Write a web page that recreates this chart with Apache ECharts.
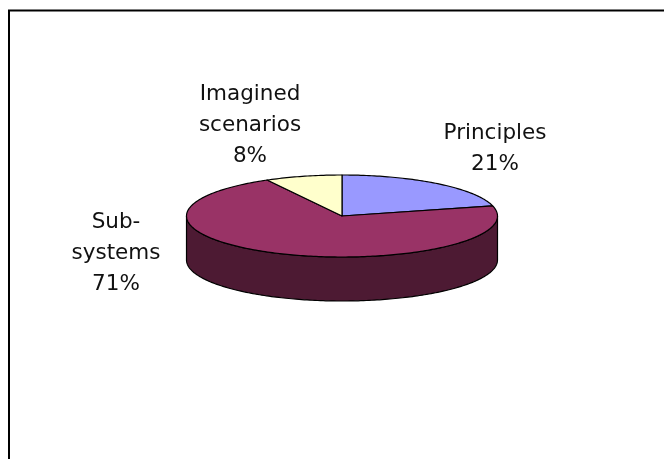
<!DOCTYPE html>
<html>
<head>
<meta charset="utf-8">
<style>html,body{margin:0;padding:0;background:#fff}#c{width:664px;height:459px}</style>
<script src="https://cdn.jsdelivr.net/npm/echarts@6/dist/echarts.min.js"></script>
</head>
<body>
<div id="c"></div>
<script>
const categories = ['Principles', 'Sub-\nsystems', 'Imagined\nscenarios'];
const values = [21, 71, 8];
const percentLabels = ['21%', '71%', '8%'];
const topColors = ['#9999FF', '#993366', '#FFFFCC'];
const wallColors = ['#4D4D80', '#4D1A33', '#808066'];
const labelAnchors = [[495, 148.5], [116, 253.5], [250, 125]];

const cx = 342, cy = 216, rx = 155.5, ry = 41, depth = 44;
const total = values.reduce((a, b) => a + b, 0);
function pt(deg, dy) {
  const t = deg * Math.PI / 180;
  return [cx + rx * Math.sin(t), cy - ry * Math.cos(t) + (dy || 0)];
}
const chart = echarts.init(document.getElementById('c'), null, { renderer: 'canvas' });

function renderSlice(params, api) {
  const i = params.dataIndex;
  let before = 0;
  for (let k = 0; k < i; k++) before += values[k];
  const a0 = before / total * 360;
  const a1 = (before + api.value(0)) / total * 360;
  const children = [];
  const w0 = Math.max(a0, 90), w1 = Math.min(a1, 270);
  if (w1 > w0) {
    const front = [], back = [];
    for (let d = w0; d < w1; d += 1) { front.push(pt(d, 0)); back.push(pt(d, depth)); }
    front.push(pt(w1, 0)); back.push(pt(w1, depth));
    children.push({
      type: 'polygon',
      shape: { points: front.concat(back.reverse()) },
      style: { fill: wallColors[i], stroke: '#000', lineWidth: 1.2 }
    });
  }
  const pts = [[cx, cy]];
  for (let d = a0; d < a1; d += 1) pts.push(pt(d, 0));
  pts.push(pt(a1, 0));
  children.push({
    type: 'polygon',
    shape: { points: pts },
    style: { fill: topColors[i], stroke: '#000', lineWidth: 1.2, lineJoin: 'round' }
  });
  children.push({
    type: 'text',
    style: {
      x: labelAnchors[i][0], y: labelAnchors[i][1],
      text: categories[i] + '\n' + percentLabels[i],
      align: 'center', verticalAlign: 'middle',
      fontFamily: 'DejaVu Sans', fontSize: 21.5, lineHeight: 31, fill: '#111'
    }
  });
  return { type: 'group', children };
}

chart.setOption({
  animation: false,
  backgroundColor: '#fff',
  graphic: [{
    type: 'polyline',
    shape: { points: [[9, 459], [9, 10.5], [664, 10.5]] },
    style: { stroke: '#000', fill: null, lineWidth: 2 }
  }],
  series: [{
    type: 'custom',
    coordinateSystem: 'none',
    renderItem: renderSlice,
    data: values.map(v => [v])
  }]
});
</script>
</body>
</html>
